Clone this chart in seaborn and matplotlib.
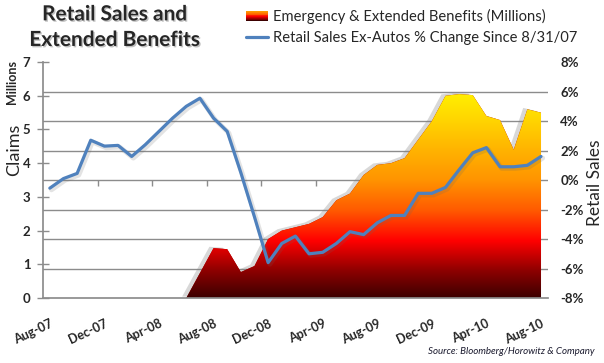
import numpy as np
import pandas as pd
import matplotlib
matplotlib.use("Agg")
import matplotlib.pyplot as plt
import matplotlib.patheffects as pe
from matplotlib.colors import LinearSegmentedColormap
from matplotlib.legend_handler import HandlerBase
from matplotlib.patches import Rectangle
from matplotlib.lines import Line2D
import seaborn as sns

# --- data (monthly, Aug-07 .. Aug-10) ---
months = pd.date_range("2007-08-01", periods=37, freq="MS")
tick_labels = ["Aug-07", "Dec-07", "Apr-08", "Aug-08", "Dec-08",
               "Apr-09", "Aug-09", "Dec-09", "Apr-10", "Aug-10"]

# emergency & extended benefits, millions (left axis)
benefits = [0, 0, 0, 0, 0, 0, 0, 0, 0, 0, 0,
            0.74, 1.48, 1.45, 0.77, 0.95, 1.75, 2.0, 2.1, 2.2, 2.4,
            2.9, 3.1, 3.65, 3.95, 4.0, 4.15, 4.7, 5.25, 6.0, 6.05,
            6.02, 5.4, 5.28, 4.4, 5.6, 5.5]

# retail sales ex-autos, % change since 8/31/07 (right axis)
retail = [-0.55, 0.1, 0.45, 2.7, 2.3, 2.35, 1.6, 2.4, 3.3, 4.2,
          5.0, 5.55, 4.2, 3.3, 0.5, -2.5, -5.6, -4.3, -3.8, -5.0,
          -4.9, -4.3, -3.5, -3.7, -2.9, -2.4, -2.4, -0.9, -0.9, -0.5,
          0.7, 1.85, 2.2, 0.9, 0.9, 1.0, 1.6]

left_ticks = [0, 1, 2, 3, 4, 5, 6, 7]
right_ticks = [-8, -6, -4, -2, 0, 2, 4, 6, 8]

sns.set_theme(style="white")
plt.rcParams["font.family"] = ["Lato", "DejaVu Sans"]

grid_col = "#8c8c8c"
line_col = "#4f81bd"
fire = LinearSegmentedColormap.from_list(
    "fire",
    [(0.0, "#3c0000"), (0.13, "#8b0000"), (0.28, "#ff0000"),
     (0.43, "#ff5a00"), (0.58, "#ff9400"), (0.73, "#ffb400"),
     (0.87, "#ffd400"), (1.0, "#ffee00")])

df = pd.DataFrame({"month": months, "benefits": benefits, "retail": retail})
df["pos"] = np.arange(len(df))

fig, ax = plt.subplots(figsize=(6.04, 3.63), dpi=100)
fig.subplots_adjust(left=0.0712, right=0.907, bottom=0.179, top=0.829)
ax2 = ax.twinx()

ax.set_xlim(-0.5, len(df) - 0.5)
ax.set_ylim(left_ticks[0], left_ticks[-1])
ax2.set_ylim(right_ticks[0], right_ticks[-1])

# gridlines follow the right axis but sit behind the area
grid_pos = np.interp(right_ticks, [right_ticks[0], right_ticks[-1]],
                     [left_ticks[0], left_ticks[-1]])
ax.set_yticks(grid_pos, minor=True)
ax.grid(which="minor", axis="y", color=grid_col, lw=1)
ax.grid(which="major", visible=False)

# small category ticks on the 0% line
zero_left = np.interp(0, [right_ticks[0], right_ticks[-1]],
                      [left_ticks[0], left_ticks[-1]])
ax.vlines(np.arange(3.5, len(df), 4), zero_left - 0.18, zero_left,
          color=grid_col, lw=1, zorder=0.5)

# area with gradient fill
area = ax.fill_between(df["pos"], 0, df["benefits"], facecolor="#b00000",
                       lw=0, zorder=1)
area.set_path_effects([pe.SimplePatchShadow(offset=(-3, 1), shadow_rgbFace="0.5",
                                            alpha=0.3), pe.Normal()])
top = df["benefits"].max()
grad = np.linspace(0, 1, 256).reshape(-1, 1)
img = ax.imshow(grad, cmap=fire, origin="lower", aspect="auto",
                extent=[-0.5, len(df) - 0.5, 0, top], zorder=1.5)
img.set_clip_path(area.get_paths()[0], transform=ax.transData)
ax.set_xlim(-0.5, len(df) - 0.5)
ax.set_ylim(left_ticks[0], left_ticks[-1])

# retail sales line
sns.lineplot(data=df, x="pos", y="retail", ax=ax2, color=line_col, lw=2.3,
             legend=False,
             path_effects=[pe.SimpleLineShadow(offset=(1.2, -1.2), shadow_color="0.4",
                                               alpha=0.18, linewidth=3.5), pe.Normal()])

# axes styling
for s in ["top", "right"]:
    ax.spines[s].set_visible(False)
ax.spines["left"].set_color(grid_col)
ax.spines["bottom"].set_color(grid_col)
for s in ax2.spines.values():
    s.set_visible(False)

ax.set_yticks(left_ticks)
ax.set_yticklabels([str(v) for v in left_ticks], fontweight="bold", fontsize=9.5)
ax.tick_params(axis="y", which="major", direction="inout", length=8, width=1,
               color=grid_col, pad=5, left=True)
ax.tick_params(axis="y", which="minor", length=0)

ax.set_xticks(df["pos"][::4])
ax.set_xticklabels(tick_labels, rotation=25, ha="right", va="top",
                   rotation_mode="anchor", fontweight="bold", fontsize=9)
ax.tick_params(axis="x", length=0, pad=14)
ax.set_xlabel("")

ax2.set_yticks(right_ticks)
ax2.set_yticklabels([f"{v}%" for v in right_ticks], fontweight="bold", fontsize=9.5)
ax2.tick_params(axis="y", length=0, pad=9)
ax2.set_xlabel("")

ax.set_ylabel("Claims", fontsize=13, va="center")
ax.yaxis.set_label_coords(-0.058, 0.63)
ax2.set_ylabel("Retail Sales", fontsize=12.5, rotation=90, va="center")
ax2.yaxis.set_label_coords(1.093, 0.49)
fig.text(0.02, 0.775, "Millions", rotation=90, fontsize=9, fontweight="bold",
         ha="center", va="center")

# title
fig.text(0.19, 0.988, "Retail Sales and\nExtended Benefits", ha="center", va="top",
         fontsize=15, fontweight="bold", linespacing=1.35,
         path_effects=[pe.SimplePatchShadow(offset=(1, -1), alpha=0.25), pe.Normal()])


# legend with a gradient swatch
class GradientHandler(HandlerBase):
    def create_artists(self, legend, orig, xd, yd, w, h, fontsize, trans):
        n = 12
        cols = fire(np.linspace(0.0, 0.6, n))
        arts = []
        for i, c in enumerate(cols):
            r = Rectangle((xd, yd + i * h / n), w, h / n + 0.2, facecolor=c,
                          edgecolor="none", transform=trans)
            arts.append(r)
        return arts


area_proxy = Rectangle((0, 0), 1, 1)
line_proxy = Line2D([], [], color=line_col, lw=2.3)
fig.legend([area_proxy, line_proxy],
           ["Emergency & Extended Benefits (Millions)",
            "Retail Sales Ex-Autos % Change Since 8/31/07"],
           handler_map={Rectangle: GradientHandler()},
           loc="upper left", bbox_to_anchor=(0.386, 1.012), frameon=False,
           fontsize=10.6, handlelength=1.5, handleheight=0.65, handletextpad=0.3,
           labelspacing=0.45, labelcolor="#262626")

fig.text(0.985, 0.018, "Source: Bloomberg/Horowitz & Company", ha="right",
         va="bottom", fontsize=7, style="italic", color="#1a1a2e")

fig.savefig("out.png", dpi=100)
